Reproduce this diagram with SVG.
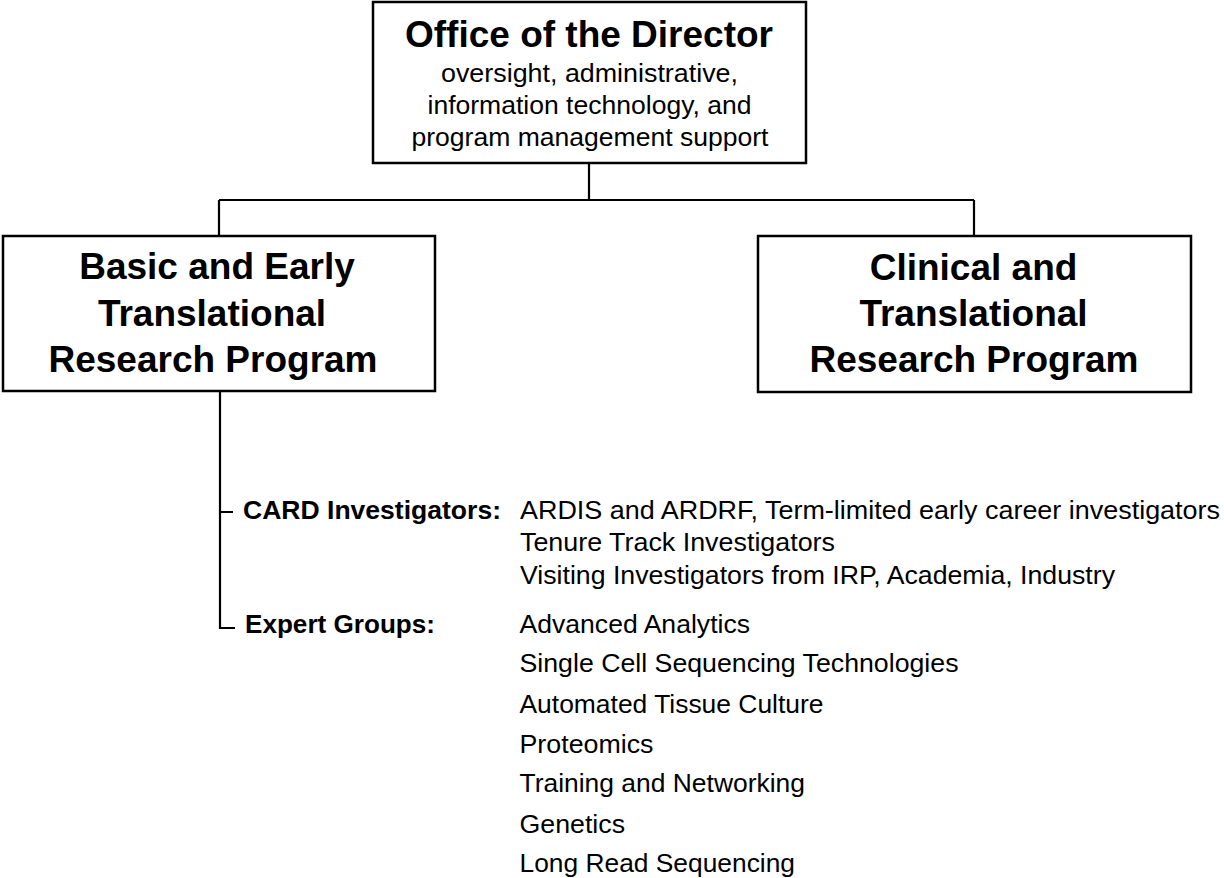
<svg xmlns="http://www.w3.org/2000/svg" width="1224" height="878" viewBox="0 0 1224 878">
<style>
.box{fill:#fff;stroke:#000;stroke-width:2.5}
.ln{fill:none;stroke:#000;stroke-width:2.2}
.t{font-family:"Liberation Sans",Arial,sans-serif;fill:#000}
.h{font-size:37px;font-weight:bold;text-anchor:middle}
.s{font-size:26px;text-anchor:middle}
.b{font-size:26px;font-weight:bold}
.r{font-size:26px}
</style>
<rect width="1224" height="878" fill="#fff"/>
<g id="connectors">
<path class="ln" d="M589 163V200M219 200H974M219 200V236M974 200V236"/>
<path class="ln" d="M220 391V628H235M220 512H233"/>
</g>
<g id="director">
<rect class="box" x="373" y="2" width="433" height="161"/>
<text class="t h" x="589" y="47" textLength="368" lengthAdjust="spacingAndGlyphs">Office of the Director</text>
<text class="t s" x="589.5" y="81.5" textLength="297" lengthAdjust="spacingAndGlyphs">oversight, administrative,</text>
<text class="t s" x="589.5" y="113.5" textLength="324" lengthAdjust="spacingAndGlyphs">information technology, and</text>
<text class="t s" x="590" y="145.5" textLength="357" lengthAdjust="spacingAndGlyphs">program management support</text>
</g>
<g id="basic">
<rect class="box" x="3" y="236" width="432" height="155"/>
<text class="t h" x="217" y="278.5">Basic and Early</text>
<text class="t h" x="212" y="326">Translational</text>
<text class="t h" x="213" y="372">Research Program</text>
</g>
<g id="clinical">
<rect class="box" x="758" y="236" width="433" height="156"/>
<text class="t h" x="973.5" y="280">Clinical and</text>
<text class="t h" x="973.5" y="326">Translational</text>
<text class="t h" x="974" y="372">Research Program</text>
</g>
<g id="card">
<text class="t b" x="243" y="519" textLength="258" lengthAdjust="spacingAndGlyphs">CARD Investigators:</text>
<text class="t r" x="520" y="518.5" textLength="700" lengthAdjust="spacingAndGlyphs">ARDIS and ARDRF, Term-limited early career investigators</text>
<text class="t r" x="520" y="551" textLength="315" lengthAdjust="spacingAndGlyphs">Tenure Track Investigators</text>
<text class="t r" x="520" y="584" textLength="595" lengthAdjust="spacingAndGlyphs">Visiting Investigators from IRP, Academia, Industry</text>
</g>
<g id="expert">
<text class="t b" x="245" y="632.5" textLength="190" lengthAdjust="spacingAndGlyphs">Expert Groups:</text>
<text class="t r" x="519.5" y="632.5" textLength="230.5" lengthAdjust="spacingAndGlyphs">Advanced Analytics</text>
<text class="t r" x="519.5" y="671.7" textLength="439" lengthAdjust="spacingAndGlyphs">Single Cell Sequencing Technologies</text>
<text class="t r" x="519.5" y="712.5" textLength="304" lengthAdjust="spacingAndGlyphs">Automated Tissue Culture</text>
<text class="t r" x="519.5" y="752.5" textLength="134" lengthAdjust="spacingAndGlyphs">Proteomics</text>
<text class="t r" x="519.5" y="791.7" textLength="285.5" lengthAdjust="spacingAndGlyphs">Training and Networking</text>
<text class="t r" x="519.5" y="832.5" textLength="105.5" lengthAdjust="spacingAndGlyphs">Genetics</text>
<text class="t r" x="519.5" y="871.7" textLength="275.5" lengthAdjust="spacingAndGlyphs">Long Read Sequencing</text>
</g>
</svg>
